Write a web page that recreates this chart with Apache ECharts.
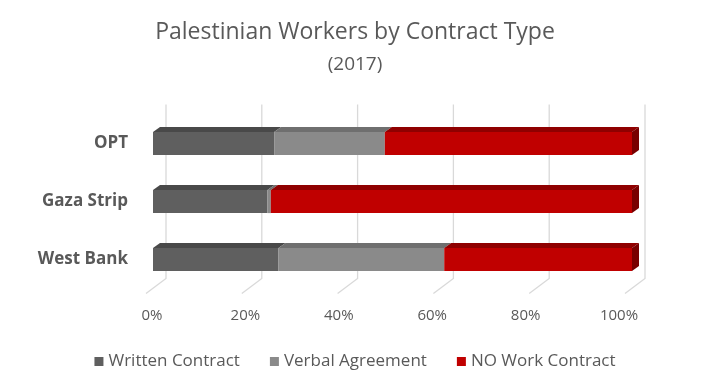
<!DOCTYPE html>
<html><head><meta charset="utf-8">
<script src="https://cdn.jsdelivr.net/npm/echarts@6/dist/echarts.min.js"></script>
<style>html,body{margin:0;padding:0;background:#fff}#c{width:710px;height:388px}</style>
</head><body><div id="c"></div>
<script>
const categories = ['West Bank', 'Gaza Strip', 'OPT'];
const written = [26.2, 23.9, 25.3];
const verbal = [34.6, 0.7, 23.1];
const noContract = [39.2, 75.4, 51.6];
const ticks = [0, 20, 40, 60, 80, 100];
const seriesNames = ['Written Contract', 'Verbal Agreement', 'NO Work Contract'];
const colors = [
  {front: '#5f5f5f', top: '#494949', side: '#404040'},
  {front: '#8a8a8a', top: '#6f6f6f', side: '#606060'},
  {front: '#c00000', top: '#8f0000', side: '#780000'}
];
const DX = 7, DY = 5;
const FONT = 'Open Sans';

function segData(idx) {
  const arrs = [written, verbal, noContract];
  return categories.map((c, i) => {
    let s = 0;
    for (let k = 0; k < idx; k++) s += arrs[k][i];
    return [i, s, s + arrs[idx][i]];
  });
}

function makeBarSeries(idx) {
  const col = colors[idx];
  const isLast = idx === 2;
  return {
    type: 'custom', name: seriesNames[idx], xAxisIndex: 0, yAxisIndex: 0,
    itemStyle: {color: col.front},
    encode: {x: [1, 2], y: 0},
    data: segData(idx),
    z: 3,
    renderItem: function (params, api) {
      const cat = api.value(0), s = api.value(1), e = api.value(2);
      const p0 = api.coord([s, cat]);
      const p1 = api.coord([e, cat]);
      const h = api.size([0, 1])[1] * 0.4;
      const top = p0[1] - h / 2, bot = p0[1] + h / 2;
      const children = [
        {type: 'polygon', shape: {points: [[p0[0], top], [p0[0] + DX, top - DY], [p1[0] + DX, top - DY], [p1[0], top]]},
          style: {fill: col.top}},
        {type: 'rect', shape: {x: p0[0], y: top, width: p1[0] - p0[0], height: h},
          style: {fill: col.front}}
      ];
      if (isLast) {
        children.push({type: 'polygon', shape: {points: [[p1[0], top], [p1[0] + DX, top - DY], [p1[0] + DX, bot - DY], [p1[0], bot]]},
          style: {fill: col.side}});
      }
      return {type: 'group', children: children};
    }
  };
}

const chart = echarts.init(document.getElementById('c'), null, {renderer: 'canvas'});
chart.setOption({
  backgroundColor: '#ffffff',
  animation: false,
  title: [
    {text: 'Palestinian Workers by Contract Type', left: 'center', top: 16,
      textStyle: {fontFamily: FONT, fontSize: 23, fontWeight: 'normal', color: '#595959'}},
    {text: '(2017)', left: 'center', top: 50,
      textStyle: {fontFamily: FONT, fontSize: 19, fontWeight: 'normal', color: '#595959'}}
  ],
  legend: {
    bottom: 13, left: 'center', itemWidth: 9, itemHeight: 9, itemGap: 30, icon: 'rect',
    data: seriesNames,
    textStyle: {fontFamily: FONT, fontSize: 17, color: '#595959'}
  },
  grid: [
    {left: 153, right: 78, top: 114.5, bottom: 99.5},
    {left: 152, width: 467, top: 114.5, bottom: 99.5}
  ],
  xAxis: [
    {type: 'value', gridIndex: 0, min: 0, max: 100, interval: 20, show: true,
      axisLine: {show: false}, axisTick: {show: false}, axisLabel: {show: false}, splitLine: {show: false}},
    {type: 'value', gridIndex: 1, min: 0, max: 100, interval: 20,
      axisLine: {show: false}, axisTick: {show: false}, splitLine: {show: false},
      axisLabel: {margin: 20, fontFamily: FONT, fontSize: 15, color: '#595959', formatter: '{value}%'}}
  ],
  yAxis: [
    {type: 'category', gridIndex: 0, data: categories,
      axisLine: {show: false}, axisTick: {show: false},
      axisLabel: {margin: 25, fontFamily: FONT, fontSize: 17, fontWeight: 'bold', color: '#595959'}},
    {type: 'category', gridIndex: 1, data: categories, show: false}
  ],
  series: [
    {
      type: 'custom', name: 'grid', xAxisIndex: 0, yAxisIndex: 0, silent: true, z: 1,
      encode: {x: 0},
      data: ticks.map(t => [t]),
      renderItem: function (params, api) {
        const x = api.coord([api.value(0), 0])[0];
        const cs = params.coordSys;
        const yTop = cs.y - 10, yBot = cs.y + cs.height - 10;
        return {type: 'polyline', shape: {points: [[x + 13, yTop], [x + 13, yBot], [x - 7, yBot + 15]]},
          style: {stroke: '#d9d9d9', lineWidth: 1.3, fill: null}};
      }
    },
    makeBarSeries(0), makeBarSeries(1), makeBarSeries(2)
  ]
});
</script></body></html>
